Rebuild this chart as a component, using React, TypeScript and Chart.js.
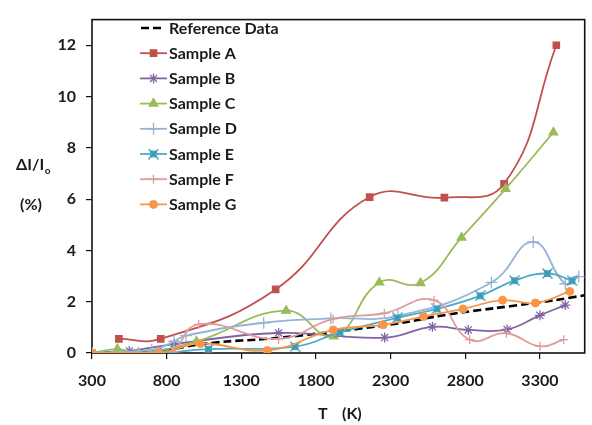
import React, { useEffect, useRef } from 'react';
import { Chart, registerables } from 'chart.js';
import { drawPoint } from 'chart.js/helpers';

Chart.register(...registerables);

// ---- axis ticks ----
const xTicks = [300, 800, 1300, 1800, 2300, 2800, 3300];
const yTicks = [0, 2, 4, 6, 8, 10, 12];

// ---- series (T in K, value in %) ----
const refT = [300, 500, 800, 1000, 1200, 1400, 1600, 1800, 2000, 2200, 2400, 2600, 2800, 3000, 3200, 3400, 3600];
const refV = [0, 0.03, 0.12, 0.32, 0.45, 0.52, 0.62, 0.75, 0.88, 1.03, 1.2, 1.42, 1.6, 1.75, 1.9, 2.06, 2.25];

const aT = [480, 760, 1530, 2160, 2660, 3060, 3410];
const aV = [0.55, 0.55, 2.48, 6.08, 6.06, 6.6, 12.0];

const bT = [300, 550, 850, 1550, 2260, 2580, 2820, 3080, 3300, 3470];
const bV = [0, 0.08, 0.35, 0.78, 0.6, 1.02, 0.9, 0.92, 1.47, 1.87];

const cT = [300, 470, 610, 1000, 1600, 1920, 2225, 2500, 2775, 3070, 3390];
const cV = [0, 0.15, 0, 0.45, 1.65, 0.65, 2.75, 2.73, 4.5, 6.4, 8.6];

const dT = [300, 700, 850, 930, 1450, 1900, 2350, 2975, 3255, 3470, 3560];
const dV = [0, 0.12, 0.45, 0.68, 1.18, 1.35, 1.45, 2.75, 4.33, 2.7, 2.98];

const eT = [790, 1080, 1660, 1960, 2345, 2610, 2900, 3130, 3350, 3515];
const eV = [0, 0.15, 0.25, 0.8, 1.37, 1.72, 2.23, 2.82, 3.1, 2.82];

const fT = [850, 1015, 1550, 1915, 2258, 2590, 2830, 3075, 3300, 3460];
const fV = [0.05, 1.12, 0.55, 1.33, 1.55, 2.06, 0.52, 0.77, 0.26, 0.52];

const gT = [300, 750, 1025, 1475, 1915, 2250, 2520, 2785, 3050, 3270, 3500];
const gV = [0, 0, 0.37, 0.1, 0.9, 1.1, 1.42, 1.72, 2.06, 1.95, 2.4];

const seriesNames = ['Reference Data', 'Sample A', 'Sample B', 'Sample C', 'Sample D', 'Sample E', 'Sample F', 'Sample G'];

const toXY = (t: number[], v: number[]) => t.map((x, i) => ({ x, y: v[i] }));

function makeEMarker(): HTMLCanvasElement {
  const c = document.createElement('canvas');
  c.width = 11;
  c.height = 11;
  const g = c.getContext('2d')!;
  g.fillStyle = '#4BACC6';
  g.fillRect(2, 2, 7, 7);
  g.strokeStyle = '#3A93AD';
  g.lineWidth = 1.3;
  g.beginPath();
  g.moveTo(0.5, 0.5);
  g.lineTo(10.5, 10.5);
  g.moveTo(10.5, 0.5);
  g.lineTo(0.5, 10.5);
  g.stroke();
  return c;
}

const FONT = 'Lato, "Open Sans", "DejaVu Sans", sans-serif';
const TEXT = '#1a1a1a';

export default function App() {
  const ref = useRef<HTMLCanvasElement | null>(null);

  useEffect(() => {
    if (!ref.current) return;
    const eMarker = makeEMarker();

    const base = {
      borderWidth: 1.8,
      tension: 0.45,
      pointBorderWidth: 1.3,
      fill: false,
    };

    const datasets: any[] = [
      { ...base, label: seriesNames[0], data: toXY(refT, refV), borderColor: '#000000', backgroundColor: '#000000', borderWidth: 2.6, borderDash: [8, 4], pointRadius: 0, tension: 0.3, order: 8 },
      { ...base, label: seriesNames[1], data: toXY(aT, aV), borderColor: '#C0504D', backgroundColor: '#C0504D', pointStyle: 'rect', pointRadius: 4.5, order: 7 },
      { ...base, label: seriesNames[2], data: toXY(bT, bV), borderColor: '#8064A2', backgroundColor: '#8064A2', pointStyle: 'star', pointRadius: 5, order: 6 },
      { ...base, label: seriesNames[3], data: toXY(cT, cV), borderColor: '#9BBB59', backgroundColor: '#9BBB59', pointStyle: 'triangle', pointRadius: 5, order: 5 },
      { ...base, label: seriesNames[4], data: toXY(dT, dV), borderColor: '#95B3D7', backgroundColor: '#95B3D7', pointStyle: 'cross', pointRadius: 6, order: 4 },
      { ...base, label: seriesNames[5], data: toXY(eT, eV), borderColor: '#4BACC6', backgroundColor: '#4BACC6', pointStyle: eMarker, pointRadius: 5, order: 3 },
      { ...base, label: seriesNames[6], data: toXY(fT, fV), borderColor: '#E09C9C', backgroundColor: '#E09C9C', pointStyle: 'cross', pointRadius: 4.5, order: 2 },
      { ...base, label: seriesNames[7], data: toXY(gT, gV), borderColor: '#F79646', backgroundColor: '#F79646', pointStyle: 'circle', pointRadius: 4, pointBorderWidth: 1, order: 1 },
    ];

    const framePlugin = {
      id: 'frame',
      beforeDatasetsDraw(chart: any) {
        const { ctx, chartArea: a } = chart;
        ctx.save();
        ctx.strokeStyle = '#111';
        ctx.lineWidth = 1.6;
        ctx.strokeRect(a.left, a.top, a.right - a.left, a.bottom - a.top);
        ctx.restore();
      },
      afterDraw(chart: any) {
        const ctx = chart.ctx as CanvasRenderingContext2D;
        ctx.save();
        // legend
        const ds = chart.data.datasets;
        ctx.textBaseline = 'middle';
        ctx.textAlign = 'left';
        ds.forEach((d: any, i: number) => {
          const y = 28 + i * 25.2;
          ctx.save();
          ctx.strokeStyle = d.borderColor;
          ctx.lineWidth = d.borderWidth;
          ctx.setLineDash(d.borderDash || []);
          ctx.beginPath();
          if (d.borderDash) {
            ctx.moveTo(141, y);
            ctx.lineTo(162, y);
          } else {
            ctx.moveTo(140, y);
            ctx.lineTo(167, y);
          }
          ctx.stroke();
          ctx.setLineDash([]);
          if (d.pointRadius > 0) {
            ctx.fillStyle = d.backgroundColor;
            ctx.strokeStyle = d.borderColor;
            ctx.lineWidth = d.pointBorderWidth;
            drawPoint(ctx, { pointStyle: d.pointStyle, radius: d.pointRadius, borderWidth: d.pointBorderWidth, rotation: 0 } as any, 153.5, y);
          }
          ctx.restore();
          ctx.fillStyle = TEXT;
          ctx.font = `bold 16px ${FONT}`;
          ctx.fillText(d.label, 169, y + 0.5);
        });

        // y title
        ctx.fillStyle = TEXT;
        ctx.textAlign = 'left';
        ctx.textBaseline = 'alphabetic';
        ctx.font = `bold 16px ${FONT}`;
        const main = '\u0394I/I';
        const w1 = ctx.measureText(main).width;
        ctx.font = `bold 10px ${FONT}`;
        const w2 = ctx.measureText('o').width;
        const x0 = 33 - (w1 + w2) / 2;
        ctx.font = `bold 16px ${FONT}`;
        ctx.fillText(main, x0, 170);
        ctx.font = `bold 10px ${FONT}`;
        ctx.fillText('o', x0 + w1 + 0.5, 174);
        ctx.font = `bold 16px ${FONT}`;
        ctx.textAlign = 'center';
        ctx.fillText('(%)', 31, 210);

        // x title
        ctx.textAlign = 'left';
        ctx.fillText('T', 318, 419);
        ctx.fillText('(K)', 342, 419);
        ctx.restore();
      },
    };

    const tickFont = { family: FONT, size: 16, weight: 'bold' };

    const chart = new Chart(ref.current, {
      type: 'line',
      data: { datasets },
      options: {
        animation: false,
        responsive: false,
        devicePixelRatio: 1,
        layout: { padding: { top: 8.5, right: 1, left: 0, bottom: 0 } },
        plugins: { legend: { display: false }, tooltip: { enabled: false } },
        scales: {
          x: {
            type: 'linear',
            min: 300,
            max: 3600,
            afterBuildTicks: (s: any) => { s.ticks = xTicks.map((v) => ({ value: v })); },
            afterFit: (s: any) => { s.height = 72; },
            grid: { drawOnChartArea: false, drawTicks: true, tickLength: 6, color: '#111', lineWidth: 1.2 },
            border: { display: false },
            ticks: { color: TEXT, font: tickFont, padding: 12, maxRotation: 0, autoSkip: false, callback: (v: any) => String(v) },
          },
          y: {
            type: 'linear',
            min: 0,
            max: 13,
            afterBuildTicks: (s: any) => { s.ticks = yTicks.map((v) => ({ value: v })); },
            afterFit: (s: any) => { s.width = 92; },
            grid: { drawOnChartArea: false, drawTicks: true, tickLength: 6, color: '#111', lineWidth: 1.2 },
            border: { display: false },
            ticks: { color: TEXT, font: tickFont, padding: 10, callback: (v: any) => String(v) },
          },
        },
      } as any,
      plugins: [framePlugin],
    });

    return () => chart.destroy();
  }, []);

  return (
    <div style={{ position: 'absolute', left: 0, top: 0, width: 592, height: 425, background: '#fff' }}>
      <canvas ref={ref} width={592} height={425} style={{ display: 'block' }} />
    </div>
  );
}
